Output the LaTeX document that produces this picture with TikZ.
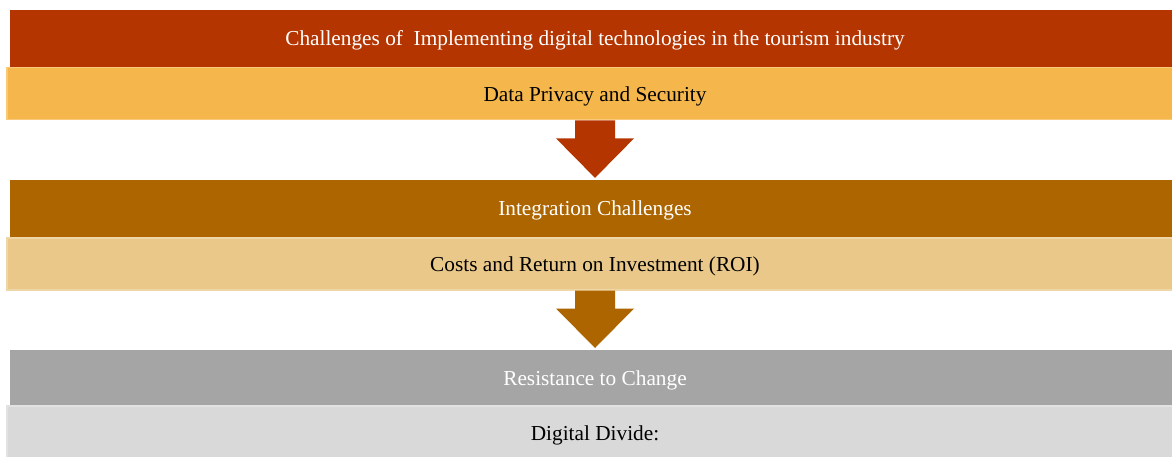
\documentclass[tikz,border=0pt]{standalone}
\usepackage{fontspec}
\setmainfont{Liberation Serif}
\definecolor{rust}{RGB}{180,53,0}
\definecolor{amber}{RGB}{245,183,75}
\definecolor{bronze}{RGB}{173,101,0}
\definecolor{sand}{RGB}{233,200,138}
\definecolor{slate}{RGB}{165,165,165}
\definecolor{mist}{RGB}{217,217,217}
\usetikzlibrary{positioning,calc}

% block arrow from the bottom of one bar to the top of the next
\newcommand{\flowarrow}[3]{%
  \fill[#3] ($(#1.south)+(-20,0)$) -- ($(#1.south)+(-20,-18)$) -- ($(#1.south)+(-39,-18)$)
    -- ($(#2.north)+(0,2)$) -- ($(#1.south)+(39,-18)$) -- ($(#1.south)+(20,-18)$)
    -- ($(#1.south)+(20,0)$) -- cycle;}

\begin{document}
\begin{tikzpicture}[x=1pt, y=1pt, font=\fontsize{21.3}{25}\selectfont,
    band/.style={fill=#1, inner sep=0pt, minimum width=1170pt, minimum height=57pt,
      text=white, text depth=0pt},
    subband/.style={fill=#1, draw=#1!75!white, line width=1.2pt, inner sep=0pt,
      minimum width=1176pt, minimum height=52pt, text=black, text depth=0pt}]
  \useasboundingbox (0,0) rectangle (1172,-457);

  \node[band=rust] (head1) at (595,-38.5) {Challenges of\ \ Implementing digital technologies in the tourism industry};
  \node[subband=amber, below=0pt of head1] (sub1) {Data Privacy and Security};

  \node[band=bronze, below=59.5pt of sub1] (head2) {Integration Challenges};
  \node[subband=sand, below=0pt of head2] (sub2) {Costs and Return on Investment (ROI)};

  \node[band=slate, minimum height=55pt, below=59.5pt of sub2] (head3) {Resistance to Change};
  \node[subband=mist, minimum height=54pt, below=0pt of head3] (sub3) {Digital Divide:};

  \flowarrow{sub1}{head2}{rust}
  \flowarrow{sub2}{head3}{bronze}
\end{tikzpicture}
\end{document}
